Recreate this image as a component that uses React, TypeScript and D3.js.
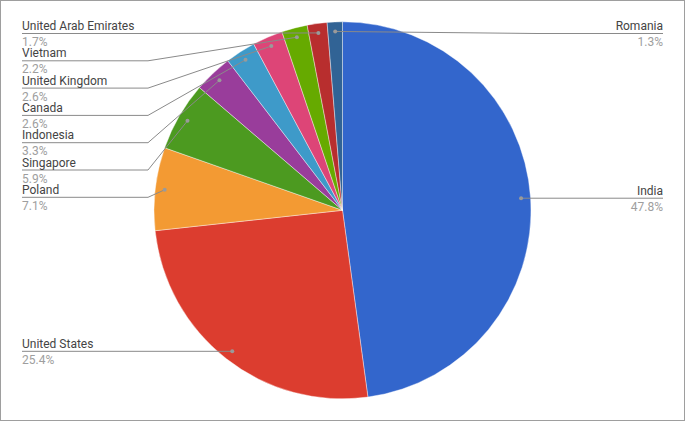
import React from "react";
import * as d3 from "d3";

const countries = [
  "India",
  "United States",
  "Poland",
  "Singapore",
  "Indonesia",
  "Canada",
  "United Kingdom",
  "Vietnam",
  "United Arab Emirates",
  "Romania",
];
const shares = [47.8, 25.4, 7.1, 5.9, 3.3, 2.6, 2.6, 2.2, 1.7, 1.3];
const colors = [
  "#3366cc",
  "#dc3d2f",
  "#f39a33",
  "#4c9a20",
  "#993d9b",
  "#3e9ac9",
  "#dd4577",
  "#66aa00",
  "#b82e2e",
  "#316395",
];

const W = 685;
const H = 421;
const cx = 342.5;
const cy = 210.3;
const R = 188.5;
const dotR = 179;
const leftX = 22;
const rightX = W - 22;
const leftElbow = 148;
const rightElbow = W - 148;
const labelGap = 27.3;
const minLineY = 33.5;
const sideTolerance = 12;

export default function App() {
  const pie = d3
    .pie<number>()
    .sort(null)
    .value((d) => d);
  const arcs = pie(shares);
  const arc = d3.arc<d3.PieArcDatum<number>>().innerRadius(0).outerRadius(R);

  const items = arcs.map((a, i) => {
    const mid = (a.startAngle + a.endAngle) / 2;
    const dx = cx + dotR * Math.sin(mid);
    const dy = cy - dotR * Math.cos(mid);
    return {
      i,
      name: countries[i],
      value: shares[i],
      dx,
      dy,
      left: dx < cx - sideTolerance,
      ly: dy,
    };
  });

  [true, false].forEach((side) => {
    const group = items.filter((d) => d.left === side).sort((a, b) => a.dy - b.dy);
    let prev = -Infinity;
    group.forEach((d) => {
      d.ly = Math.max(d.dy, prev + labelGap, minLineY);
      prev = d.ly;
    });
  });

  return (
    <svg
      width={W}
      height={H}
      style={{ position: "absolute", left: 0, top: 0, background: "#fff" }}
      fontFamily="Roboto, 'Noto Sans', sans-serif"
      fontSize={12}
    >
      <rect x={0.5} y={0.5} width={W - 1} height={H - 1} fill="#fff" stroke="#9e9e9e" />
      <g transform={`translate(${cx},${cy})`}>
        {arcs.map((a, i) => (
          <path key={i} d={arc(a) || ""} fill={colors[i]} stroke="#fff" strokeWidth={0.4} />
        ))}
      </g>
      {items.map((d) => {
        const x0 = d.left ? leftX : rightX;
        const xe = d.left ? leftElbow : rightElbow;
        const path = d3.path();
        path.moveTo(x0, d.ly);
        path.lineTo(xe, d.ly);
        path.lineTo(d.dx, d.dy);
        return (
          <g key={d.i}>
            <path d={path.toString()} fill="none" stroke="#8a8a8a" strokeWidth={1} />
            <circle cx={d.dx} cy={d.dy} r={2} fill="#9a9a9a" />
            <text
              x={x0}
              y={d.ly - 3.5}
              textAnchor={d.left ? "start" : "end"}
              fill="#444"
            >
              {d.name}
            </text>
            <text
              x={x0}
              y={d.ly + 12.5}
              textAnchor={d.left ? "start" : "end"}
              fill="#9e9e9e"
            >
              {d.value.toFixed(1) + "%"}
            </text>
          </g>
        );
      })}
    </svg>
  );
}
